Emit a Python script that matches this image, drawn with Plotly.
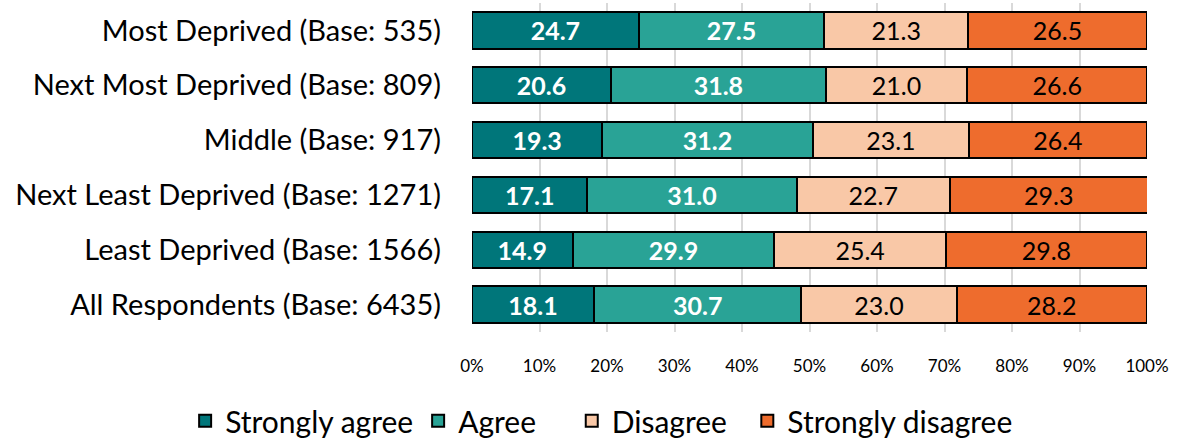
import plotly.graph_objects as go

categories = [
    "Most Deprived (Base: 535)",
    "Next Most Deprived (Base: 809)",
    "Middle (Base: 917)",
    "Next Least Deprived (Base: 1271)",
    "Least Deprived (Base: 1566)",
    "All Respondents (Base: 6435)",
]
series_names = ["Strongly agree", "Agree", "Disagree", "Strongly disagree"]
strongly_agree = [24.7, 20.6, 19.3, 17.1, 14.9, 18.1]
agree = [27.5, 31.8, 31.2, 31.0, 29.9, 30.7]
disagree = [21.3, 21.0, 23.1, 22.7, 25.4, 23.0]
strongly_disagree = [26.5, 26.6, 26.4, 29.3, 29.8, 28.2]
tick_vals = [0, 10, 20, 30, 40, 50, 60, 70, 80, 90, 100]
tick_text = [f"{v}%" for v in tick_vals]

values = [strongly_agree, agree, disagree, strongly_disagree]
colors = ["#00767A", "#29A396", "#F9C8A7", "#EE6C2D"]
label_colors = ["white", "white", "black", "black"]
label_weights = ["bold", "bold", "normal", "normal"]
# extra legend spacing (non-breaking spaces) to mimic the reference spacing
legend_pad = [0, 4, 2, 0]

FONT = "Lato, sans-serif"

fig = go.Figure()
for name, vals, col, lc, lw, pad in zip(series_names, values, colors,
                                        label_colors, label_weights, legend_pad):
    fig.add_trace(go.Bar(
        y=categories, x=vals, name=name + "\u00a0" * pad, orientation="h",
        marker=dict(color=col, line=dict(color="black", width=2)),
        text=[f"{v:.1f}" for v in vals], textposition="inside",
        insidetextanchor="middle", textangle=0,
        textfont=dict(family=FONT, size=25, color=lc, weight=lw),
        hoverinfo="skip",
    ))

fig.update_layout(
    barmode="stack", bargap=0.34,
    width=1177, height=439,
    margin=dict(l=472, r=30, t=3, b=107, autoexpand=False),
    plot_bgcolor="white", paper_bgcolor="white",
    font=dict(family=FONT, size=24, color="black"),
    uniformtext=dict(mode=False),
    showlegend=True,
    legend=dict(orientation="h", x=-0.425, xanchor="left", xref="paper",
                y=-0.27, yanchor="middle", font=dict(size=30),
                itemwidth=30, tracegroupgap=0, traceorder="normal"),
)
fig.update_xaxes(range=[0, 100], tickvals=tick_vals, ticktext=tick_text,
                 showgrid=True, gridcolor="#D9D9D9", gridwidth=2,
                 zeroline=False, showline=False, automargin=False,
                 tickfont=dict(size=17), ticks="", ticklabelstandoff=22,
                 fixedrange=True)
fig.update_yaxes(autorange="reversed", showgrid=False, showline=False,
                 automargin=False, ticks="", ticklabelstandoff=30,
                 tickfont=dict(size=29), fixedrange=True)

fig.write_html("out.html", config={"displayModeBar": False},
               post_script="document.body.style.margin='0';")
